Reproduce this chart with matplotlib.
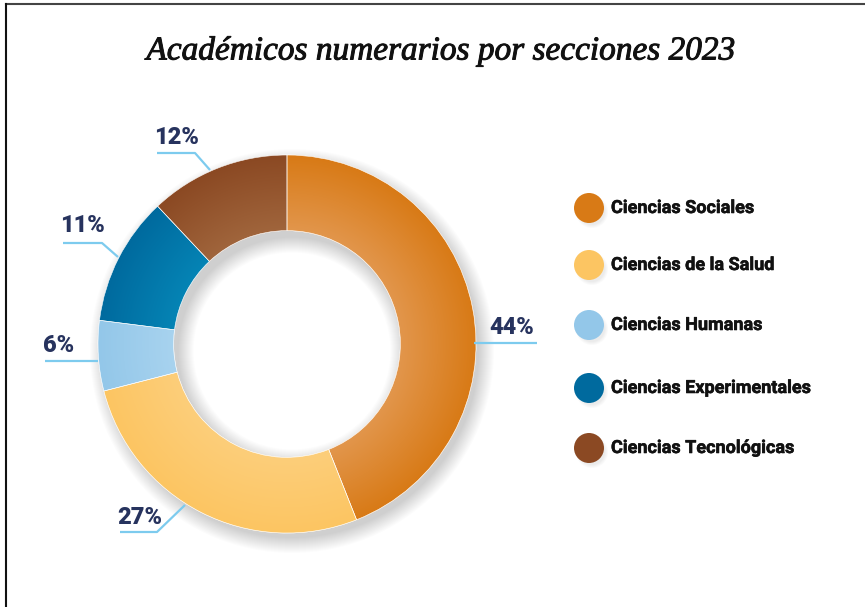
import numpy as np
import matplotlib.pyplot as plt
import matplotlib.patheffects as pe
from matplotlib.patches import Circle, Wedge
from matplotlib.lines import Line2D
from matplotlib.colors import to_rgb

# datos
categorias = ["Ciencias Sociales", "Ciencias de la Salud", "Ciencias Humanas",
              "Ciencias Experimentales", "Ciencias Tecnológicas"]
porcentajes = [44, 27, 6, 11, 12]
colores = ["#d87a16", "#fcc562", "#93c7e9", "#006a9e", "#8b4923"]
claros = ["#e2964c", "#fdce7a", "#a8d3ef", "#0584b5", "#a0653c"]
titulo = "Académicos numerarios por secciones 2023"

W, H = 865, 607
fig = plt.figure(figsize=(W / 100, H / 100), dpi=100)
ax = fig.add_axes([0, 0, 1, 1])

cx, cy = 287, H - 344
R = 189
ancho = 0.40 * R
ri = R - ancho

# sombra suave del anillo (desplazada abajo a la derecha)
for k in range(16):
    ax.add_patch(Wedge((cx + 5, cy - 7), R + 13 - k * 1.0, 0, 360,
                       width=ancho + 28 - k * 2.0, color="#000000",
                       alpha=0.010, lw=0, zorder=1))

wedges, _ = ax.pie(porcentajes, colors=colores, startangle=90, counterclock=False,
                   center=(cx, cy), radius=R, frame=True,
                   wedgeprops=dict(width=ancho, edgecolor="white", linewidth=0.4))

# degradado radial: mas claro hacia el interior
xs = np.linspace(cx - R, cx + R, 400)
ys = np.linspace(cy - R, cy + R, 400)
gx, gy = np.meshgrid(xs, ys)
t = np.clip((np.hypot(gx - cx, gy - cy) - ri) / ancho, 0, 1)[..., None]
for w, c1, c2 in zip(wedges, claros, colores):
    w.set_zorder(2)
    img = np.array(to_rgb(c1)) * (1 - t) + np.array(to_rgb(c2)) * t
    im = ax.imshow(img, extent=(cx - R, cx + R, cy - R, cy + R), origin="lower",
                   zorder=3, interpolation="bilinear")
    im.set_clip_path(w)
    ax.add_patch(Wedge(w.center, w.r, w.theta1, w.theta2, width=w.width,
                       fill=False, edgecolor="white", lw=0.4, zorder=4))

# etiquetas de porcentaje con lineas guia (x_texto, y_texto, linea)
etiquetas = [
    (512, 327, [(474, 343), (537, 343)]),
    (140, 517, [(185, 505), (157, 532), (120, 532)]),
    (59, 345, [(98, 361), (45, 361)]),
    (82, 226, [(118, 257), (102, 243), (63, 243)]),
    (176, 137, [(210, 170), (195, 153), (157, 153)]),
]
for p, (tx, ty, pts) in zip(porcentajes, etiquetas):
    lx = [q[0] for q in pts]
    lyy = [H - q[1] for q in pts]
    ax.plot(lx, lyy, color="#7dcbee", lw=1.6, zorder=5, solid_capstyle="butt")
    ax.text(tx, H - ty, f"{p}%", ha="center", va="center", fontsize=17,
            fontweight="black", color="#27335e", family="Roboto", zorder=6)

# leyenda
ly = [208, 265, 325, 388, 448]
for cat, col, y in zip(categorias, colores, ly):
    for k in range(4):
        ax.add_patch(Circle((592, H - y - 4), 16 - k, color="#000000",
                            alpha=0.02, lw=0, zorder=2))
    ax.add_patch(Circle((589, H - y), 15, color=col, lw=0, zorder=3))
    ax.text(611, H - y, cat, ha="left", va="center", fontsize=13,
            fontweight="bold", color="#111111", family="Roboto", zorder=4,
            path_effects=[pe.withStroke(linewidth=0.4, foreground="#111111")])

# titulo
ax.text(442, H - 51, titulo, ha="center", va="center", fontsize=24,
        style="italic", family="Liberation Serif", color="#111111",
        path_effects=[pe.withStroke(linewidth=0.7, foreground="#111111")])

# marco
ax.add_line(Line2D([6, W], [H - 4, H - 4], color="#444444", lw=1.5))
ax.add_line(Line2D([6, 6], [H - 4, 0], color="#111111", lw=1.5))

ax.set_xlim(0, W)
ax.set_ylim(0, H)
ax.set_aspect("auto")
ax.axis("off")

fig.savefig("out.png", dpi=100)
